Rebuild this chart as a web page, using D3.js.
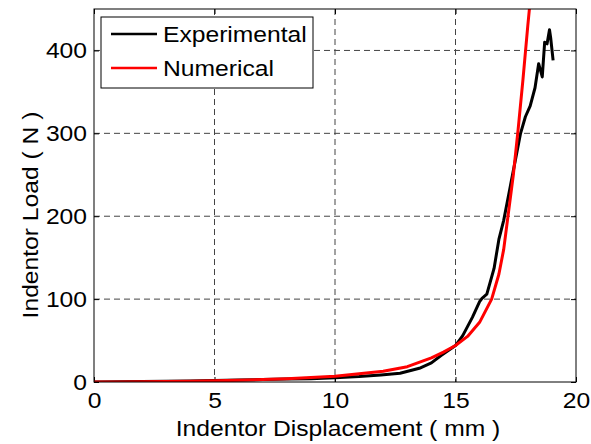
<!DOCTYPE html>
<html>
<head>
<meta charset="utf-8">
<script src="https://cdn.jsdelivr.net/npm/d3@7"></script>
<style>
  body { margin: 0; background: #fff; }
  svg text { font-family: "Liberation Sans", Arial, sans-serif; fill: #000; }
</style>
</head>
<body>
<svg id="chart"></svg>
<script>
// Datos
const xTicks = [0, 5, 10, 15, 20];
const yTicks = [0, 100, 200, 300, 400];

const expX = [0, 1, 2, 3, 4, 5, 6, 7, 8, 9, 10, 11, 11.9, 12.7, 13.5, 14, 14.4, 15, 15.3, 15.7, 16.0, 16.1, 16.3, 16.6, 16.8, 17.0, 17.2, 17.4, 17.7, 17.9, 18.1, 18.3, 18.45, 18.6, 18.7, 18.8, 18.9, 18.95, 19.05];
const expY = [0, 0.2, 0.5, 1, 1.3, 1.8, 2.5, 3, 3.5, 4, 5, 6.5, 8.5, 10.5, 16.5, 23, 32, 44, 56, 78, 97, 101, 106, 137, 172, 195, 225, 255, 300, 320, 333, 355, 384, 368, 410, 408, 425, 415, 388];

const numX = [0, 1, 2, 3, 4, 5, 6, 7, 8, 9, 10, 11, 12, 13, 14, 14.5, 15, 15.5, 16, 16.5, 16.8, 17, 17.2, 17.4, 17.6, 17.8, 18, 18.1];
const numY = [0, 0, 0.3, 0.6, 1, 1.5, 2, 3, 4, 5.5, 7, 10, 13, 18.5, 29, 36, 44, 55, 72, 100, 130, 160, 205, 250, 305, 365, 430, 460];

const series = [
  { name: "Experimental", color: "#000", xs: expX, ys: expY },
  { name: "Numerical", color: "#f00", xs: numX, ys: numY }
];

const width = 591, height = 444;
const margin = { top: 9, right: 15, bottom: 62, left: 94 };
const w = width - margin.left - margin.right;
const h = height - margin.top - margin.bottom;
const fs = "22px";
const stretch = 1.12;

const svg = d3.select("#chart").attr("width", width).attr("height", height);
const g = svg.append("g").attr("transform", `translate(${margin.left},${margin.top})`);

const x = d3.scaleLinear().domain([0, 20]).range([0, w]);
const y = d3.scaleLinear().domain([0, 450]).range([h, 0]);

// Rejilla
g.append("g").selectAll("line").data(xTicks.slice(1, -1)).enter().append("line")
  .attr("x1", d => x(d)).attr("x2", d => x(d)).attr("y1", 0).attr("y2", h)
  .attr("stroke", "#444").attr("stroke-dasharray", "6,4").attr("stroke-width", 1);
g.append("g").selectAll("line").data(yTicks.slice(1)).enter().append("line")
  .attr("y1", d => y(d)).attr("y2", d => y(d)).attr("x1", 0).attr("x2", w)
  .attr("stroke", "#444").attr("stroke-dasharray", "6,4").attr("stroke-width", 1);

// Ejes (marcas hacia dentro en los cuatro lados)
const axB = g.append("g").attr("transform", `translate(0,${h})`)
  .call(d3.axisBottom(x).tickValues(xTicks).tickSizeInner(-5).tickSizeOuter(0).tickPadding(10));
const axL = g.append("g")
  .call(d3.axisLeft(y).tickValues(yTicks).tickSizeInner(-5).tickSizeOuter(0).tickPadding(7));
const axT = g.append("g")
  .call(d3.axisTop(x).tickValues(xTicks).tickSizeInner(-5).tickSizeOuter(0).tickFormat(""));
const axR = g.append("g").attr("transform", `translate(${w},0)`)
  .call(d3.axisRight(y).tickValues(yTicks).tickSizeInner(-5).tickSizeOuter(0).tickFormat(""));
[axB, axL, axT, axR].forEach(a => {
  a.select(".domain").remove();
  a.selectAll("line").attr("stroke", "#000");
  a.selectAll("text").style("font-size", fs).style("font-family", "Liberation Sans, Arial, sans-serif");
});
axB.selectAll("text").attr("dy", "0.71em");

g.append("defs").append("clipPath").attr("id", "clip")
  .append("rect").attr("width", w).attr("height", h);

const line = d3.line().x(d => x(d[0])).y(d => y(d[1]));
const lines = g.append("g").attr("clip-path", "url(#clip)");
series.forEach(s => {
  lines.append("path")
    .datum(s.xs.map((v, i) => [v, s.ys[i]]))
    .attr("d", line)
    .attr("fill", "none")
    .attr("stroke", s.color)
    .attr("stroke-width", 3)
    .attr("stroke-linejoin", "round");
});

// Marco
g.append("rect").attr("width", w).attr("height", h)
  .attr("fill", "none").attr("stroke", "#000").attr("stroke-width", 1);

// Leyenda
const leg = g.append("g").attr("transform", `translate(${101 - margin.left},${17 - margin.top})`);
leg.append("rect").attr("width", 212).attr("height", 71)
  .attr("fill", "#fff").attr("stroke", "#000").attr("stroke-width", 1);
series.forEach((s, i) => {
  const yy = 17 + i * 34;
  leg.append("line").attr("x1", 10).attr("x2", 56).attr("y1", yy).attr("y2", yy)
    .attr("stroke", s.color).attr("stroke-width", 2.5);
  leg.append("text").attr("x", 62).attr("y", yy).attr("dy", "0.36em")
    .style("font-size", fs).text(s.name);
});

// Titulos de ejes
svg.append("text").attr("x", 338).attr("y", 436)
  .attr("text-anchor", "middle").style("font-size", fs)
  .text("Indentor Displacement ( mm )");
svg.append("text").attr("transform", `translate(38,215) rotate(-90)`)
  .attr("text-anchor", "middle").style("font-size", fs)
  .text("Indentor Load ( N )");

// El texto del original es algo mas ancho que Liberation Sans
svg.selectAll("text").each(function () {
  const len = this.getComputedTextLength();
  if (len > 0) {
    d3.select(this).attr("textLength", len * stretch).attr("lengthAdjust", "spacingAndGlyphs");
  }
});
</script>
</body>
</html>
